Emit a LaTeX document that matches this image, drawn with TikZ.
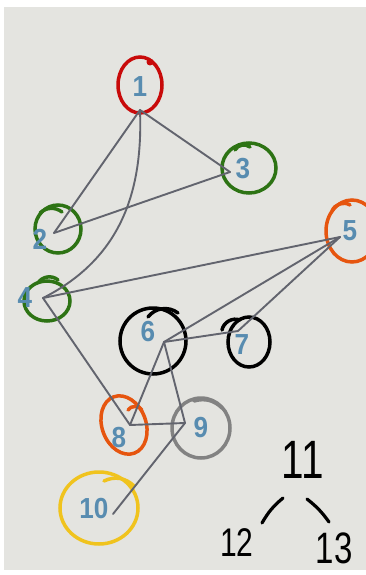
\documentclass[tikz,border=0pt]{standalone}
\usepackage{fontspec}
\usepackage{xcolor}
\usepackage{tikz}
\usetikzlibrary{positioning}
\newfontfamily\numfont{Liberation Sans}[FakeStretch=0.9]
\newfontfamily\handfont{Liberation Sans}[FakeStretch=0.75]
\definecolor{paper}{RGB}{228,228,224}
\definecolor{numblue}{RGB}{88,140,176}
\definecolor{edgegray}{RGB}{98,100,110}
\definecolor{ringred}{RGB}{200,10,10}
\definecolor{ringgreen}{RGB}{45,115,20}
\definecolor{ringorange}{RGB}{230,85,15}
\definecolor{ringgray}{RGB}{130,130,130}
\definecolor{ringyellow}{RGB}{240,195,30}
\tikzset{
  num/.style={font=\numfont\bfseries\fontsize{29}{29}\selectfont, text=numblue, inner sep=0pt},
  ring/.style={line width=3.5pt, draw=#1, line cap=round},
  edge/.style={line width=1.9pt, draw=edgegray, line cap=round, line join=round},
  hand/.style={font=\handfont\fontsize{#1}{#1}\selectfont, inner sep=0pt},
  pen/.style={line width=3.2pt, draw=black, line cap=round}
}

\begin{document}
\begin{tikzpicture}[x=1pt,y=-1pt]
\useasboundingbox (0,0) rectangle (366,575);
\fill[white] (0,0) rectangle (366,575);
\fill[paper] (4,7) rectangle (366,570);

% rings, each with the little pen hook on top
\draw[ring=ringred] (140,85) ellipse [x radius=22, y radius=28];
\fill[ringred] (150,62) circle (3.5pt);
\draw[ring=ringgreen] (58,229) ellipse [x radius=23, y radius=24];
\draw[ring=ringgreen] (40,213) to[bend left=40] (62,212);
\draw[ring=ringgreen] (249,168) ellipse [x radius=27, y radius=25];
\draw[ring=ringgreen] (235,150) to[bend left=50] (250,147);
\draw[ring=ringgreen] (47,301) ellipse [x radius=23, y radius=20];
\draw[ring=ringgreen] (38,283) to[bend left=50] (58,280);
\draw[ring=ringorange] (352,231) ellipse [x radius=26, y radius=31];
\draw[ring=ringorange] (332,211) to[bend left=50] (350,205);
\draw[ring=black] (153,341) ellipse [x radius=33, y radius=33];
\draw[ring=black] (148,317) to[bend left=45] (178,313);
\draw[ring=black] (249,342) ellipse [x radius=21, y radius=25];
\draw[ring=black] (222,330) to[bend left=50] (240,320);
\draw[ring=ringorange, rotate around={20:(124,425)}] (124,425) ellipse [x radius=22, y radius=30];
\draw[ring=ringorange] (128,410) to[bend left=60] (142,410);
\draw[ring=ringgray] (201,428) ellipse [x radius=29, y radius=30];
\draw[ring=ringgray] (194,401) to[bend left=30] (222,408);
\draw[ring=ringyellow] (99,508) ellipse [x radius=39, y radius=36];
\draw[ring=ringyellow] (104,481) to[bend left=35] (134,486);

% meeting points of the edges
\coordinate (v1) at (140,110);
\coordinate (v2) at (54,233);
\coordinate (v3) at (230,172);
\coordinate (v4) at (43,298);
\coordinate (v5) at (340,237);
\coordinate (v6) at (164,342);
\coordinate (v7) at (238,331);
\coordinate (v8) at (130,425);
\coordinate (v9) at (185,423);
\coordinate (v10) at (113,514);

\draw[edge] (v1) -- (v2);
\draw[edge] (v1) -- (v3);
\draw[edge] (v2) -- (v3);
\draw[edge] (v1) .. controls (143,190) and (122,258) .. (v4);
\draw[edge] (v4) -- (v5);
\draw[edge] (v5) -- (v6);
\draw[edge] (v5) -- (v7);
\draw[edge] (v6) -- (v7);
\draw[edge] (v4) -- (v8);
\draw[edge] (v6) -- (v8);
\draw[edge] (v6) -- (v9);
\draw[edge] (v8) -- (v9);
\draw[edge] (v9) -- (v10);

% labels
\node[num] (n1) at (140,87) {1};
\node[num] (n2) at (40,239) {2};
\node[num] (n3) at (243,169) {3};
\node[num] (n4) at (25,298) {4};
\node[num] (n5) at (350,231) {5};
\node[num] (n6) at (148,332) {6};
\node[num] (n7) at (242,345) {7};
\node[num] (n8) at (119,438) {8};
\node[num] (n9) at (201,428) {9};
\node[num] (n10) at (94,509) {10};

% small tree
\node[hand=54] (n11) at (303,460) {11};
\node[hand=40] (n12) at (237,543) {12};
\node[hand=44] (n13) at (334,548) {13};
\coordinate (l1) at (283,498);
\coordinate (l2) at (262,523);
\coordinate (r1) at (307,499);
\coordinate (r2) at (329,522);
\draw[pen] (l1) to[bend right=10] (l2);
\draw[pen] (r1) to[bend left=8] (r2);
\end{tikzpicture}
\end{document}
